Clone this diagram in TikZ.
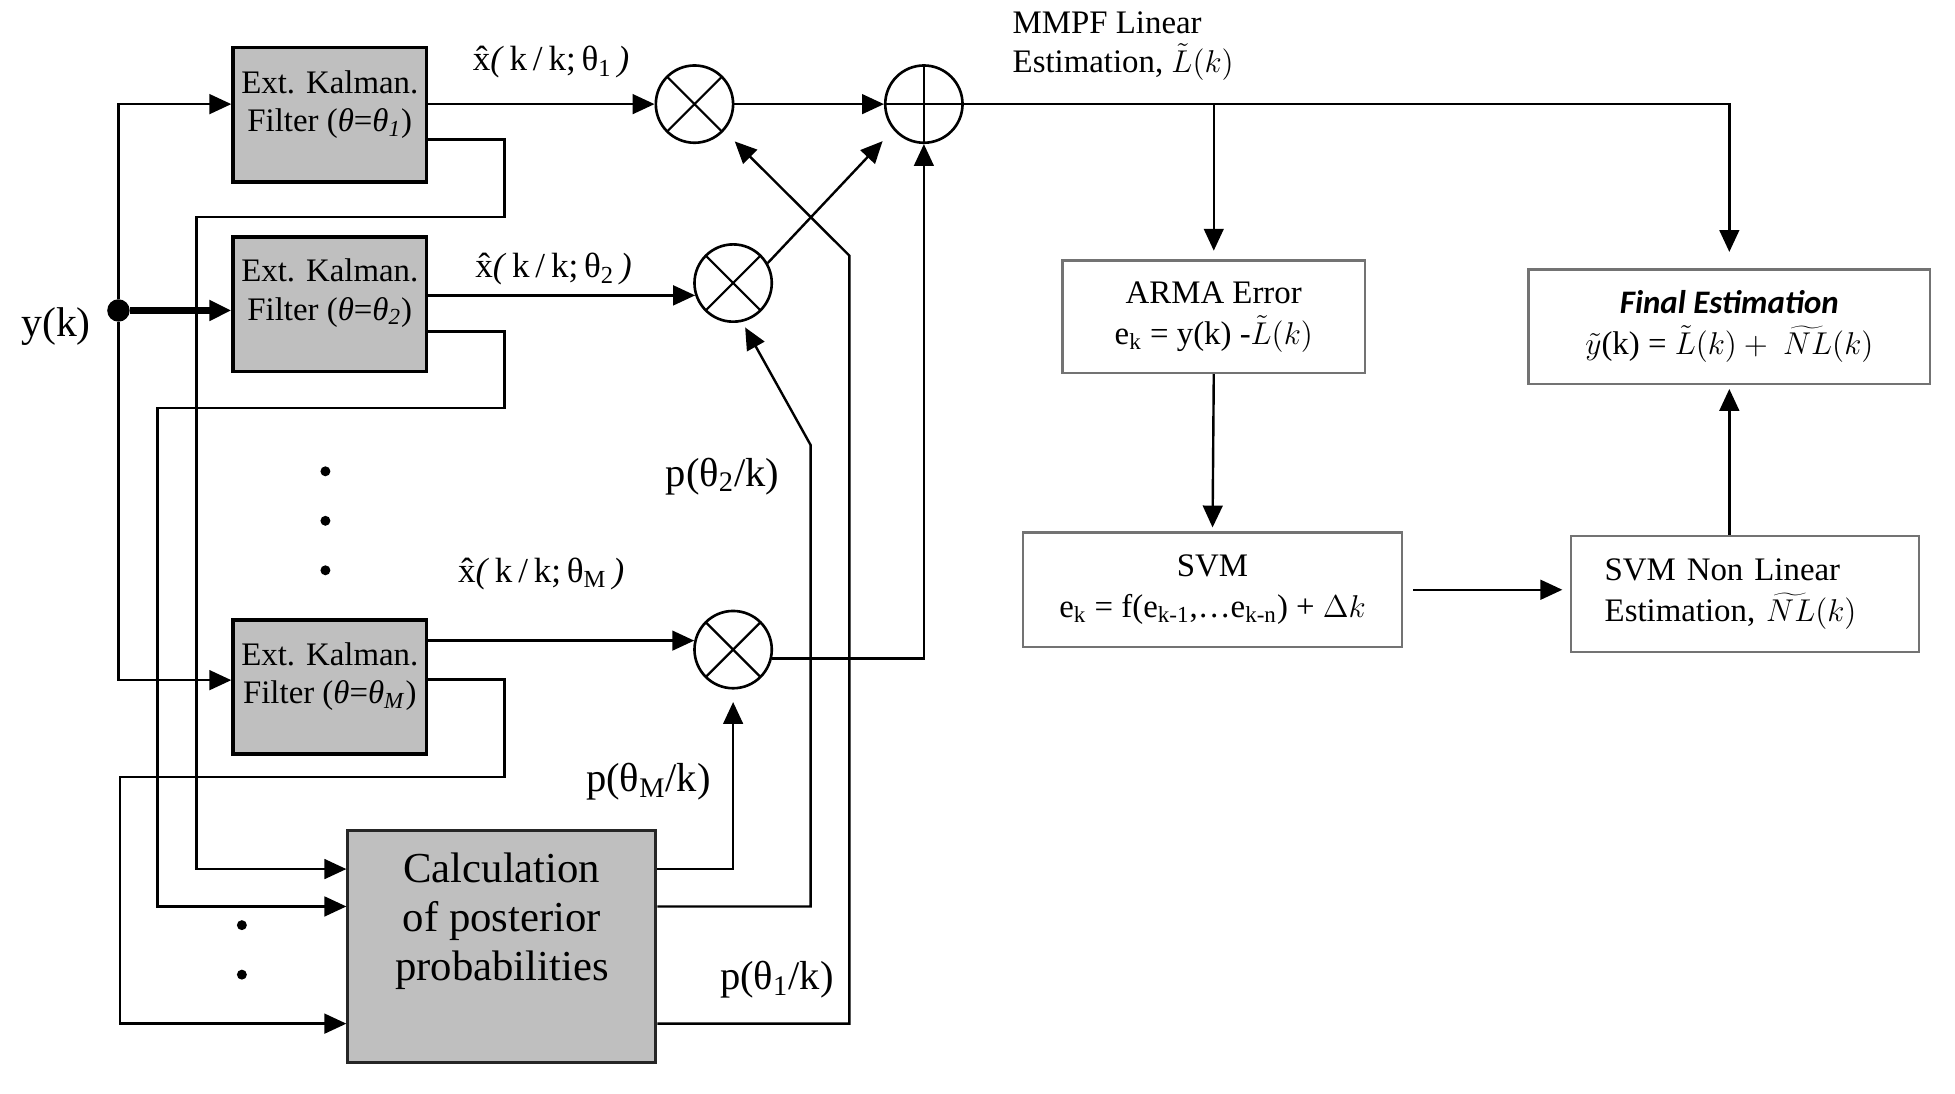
\documentclass[tikz,border=0pt]{standalone}
\usepackage{fontspec}
\setmainfont{Liberation Serif}
\newfontfamily\calibrifont{Carlito}
\usetikzlibrary{positioning, arrows.meta}

\begin{document}
\begin{tikzpicture}[
    x=0.02cm, y=-0.02cm,
    filterbox/.style={rectangle, draw, line width=1.7pt, fill=black!25, minimum width=3.1cm, minimum height=2.16cm},
    postbox/.style={rectangle, draw=black!85, line width=1.4pt, fill=black!25, minimum width=4.94cm, minimum height=3.72cm},
    stagebox/.style={rectangle, draw=black!55, line width=1.1pt, fill=white, align=center, font=\fontsize{15}{18.7}\selectfont},
    mult/.style={circle, draw, line width=1.2pt, minimum size=1.24cm,
        path picture={\draw[line width=1pt] (path picture bounding box.south west) -- (path picture bounding box.north east)
            (path picture bounding box.north west) -- (path picture bounding box.south east);}},
    summ/.style={circle, draw, line width=1.2pt, minimum size=1.24cm,
        path picture={\draw[line width=1pt] (path picture bounding box.north) -- (path picture bounding box.south)
            (path picture bounding box.west) -- (path picture bounding box.east);}},
    ftext/.style={align=center, font=\fontsize{15}{17.6}\selectfont},
    ptext/.style={align=center, font=\fontsize{19.5}{22.5}\selectfont},
    sig/.style={font=\fontsize{16}{18}\selectfont},
    prob/.style={font=\fontsize{18.5}{20}\selectfont},
    dotnode/.style={circle, fill, inner sep=0pt, minimum size=0.16cm},
    arrow/.style={-{Triangle[length=10pt, width=9pt]}, line width=1.1pt},
]
\useasboundingbox (0,0) rectangle (1568,877);

%% NODES
    % filter bank
    \node[filterbox] (ekf1) at (264.5,92) {};
    \node[ftext] (ekf1_txt) at ([yshift=0.16cm]ekf1.center) {Ext. Kalman.\\Filter (\textit{θ}=\textit{θ}\textsubscript{\textit{1}})};
    \node[filterbox] (ekf2) at (264.5,244) {};
    \node[ftext] (ekf2_txt) at ([yshift=0.18cm]ekf2.center) {Ext. Kalman.\\Filter (\textit{θ}=\textit{θ}\textsubscript{\textit{2}})};
    \node[filterbox] (ekfM) at (264.5,551) {};
    \node[ftext] (ekfM_txt) at ([yshift=0.17cm]ekfM.center) {Ext. Kalman.\\Filter (\textit{θ}=\textit{θ}\textsubscript{\textit{M}})};

    \node[postbox] (post) at (402.5,759) {};
    \node[ptext] (post_txt) at ([yshift=0.4cm]post.center) {Calculation\\of posterior\\probabilities};

    % input
    \node[dotnode, minimum size=0.36cm] (ydot) at (95,249) {};
    \node[font=\fontsize{19}{21}\selectfont] (yk) at (45,262) {y(k)};

    \node[dotnode] (dots1) at (261,378) {};
    \node[dotnode, below=0.62cm of dots1] (dots2) {};
    \node[dotnode, below=0.62cm of dots2] (dots3) {};
    \node[dotnode] (dots4) at (194,742) {};
    \node[dotnode, below=0.62cm of dots4] (dots5) {};

    % weighting and sum
    \node[mult] (m1) at (557,83.5) {};
    \node[mult] (m2) at (588,227) {};
    \node[mult] (mM) at (588,521) {};
    \node[summ] (sum) at (741,83.5) {};

    \node[sig] (xhat1) at (442,50) {\^{x}\textit{(}\,k\,/\,k;\,θ\textsubscript{1}\,\textit{)}};
    \node[sig] (xhat2) at (444,216) {\^{x}\textit{(}\,k\,/\,k;\,θ\textsubscript{2}\,\textit{)}};
    \node[sig] (xhatM) at (434,460) {\^{x}\textit{(}\,k\,/\,k;\,θ\textsubscript{M}\,\textit{)}};
    \node[prob] (p2) at (579.5,382) {p(θ\textsubscript{2}/k)};
    \node[prob] (pM) at (520,627) {p(θ\textsubscript{M}/k)};
    \node[prob] (p1) at (623,786) {p(θ\textsubscript{1}/k)};

    \node[align=left, anchor=west, font=\fontsize{15}{18}\selectfont] (mmpf) at (806,37) {MMPF Linear\\Estimation, $\tilde{L}(k)$};

    % error model
    \node[stagebox, minimum width=4.86cm, minimum height=1.8cm] (arma) at (973.5,254) {ARMA Error\\e\textsubscript{k} = y(k) -$\tilde{L}(k)$};
    \node[stagebox, minimum width=6.08cm, minimum height=1.84cm] (svm) at (972.5,473) {SVM\\e\textsubscript{k} = f(e\textsubscript{k-1},…e\textsubscript{k-n}) + $\Delta k$};
    \node[stagebox, align=left, text width=4.5cm, inner xsep=0.54cm, minimum height=1.86cm] (svmnl) at (1399.5,476.5) {SVM Non Linear\\Estimation, $\widetilde{NL}(k)$};
    \node[stagebox, minimum width=6.44cm, minimum height=1.84cm] (final) at (1387,262) {{\calibrifont\bfseries\itshape Final Estimation}\\$\tilde{y}$(k) = $\tilde{L}(k) +\ \widetilde{NL}(k)$};

%% CONNECTORS
    % measurement to filters
    \draw[arrow] (ydot) |- (ekf1.west |- m1.west);
    \draw[arrow, line width=2.8pt] (ydot) -- (ydot -| ekf2.west);
    \draw[arrow] (ydot) |- ([yshift=0.11cm]ekfM.west);

    % state estimates
    \draw[arrow] (ekf1.east |- m1.west) -- (m1.west);
    \draw[arrow] (ekf2.east |- m2.198) -- (m2.198);
    \draw[arrow] (ekfM.east |- mM.167) -- (mM.167);

    % residuals to posterior box
    \draw[arrow] ([yshift=-0.4cm]ekf1.east) -- ++(61,0) -- ++(0,62) -- ++(-247,0) |- ([yshift=1.24cm]post.west);
    \draw[arrow] ([yshift=-0.44cm]ekf2.east) -- ++(61,0) -- ++(0,61) -- ++(-278,0) |- ([yshift=0.64cm]post.west);
    \draw[arrow] ([yshift=0.12cm]ekfM.east) -- ++(61,0) -- ++(0,78) -- ++(-308,0) |- ([yshift=-1.24cm]post.west);

    % probabilities
    \draw[arrow, shorten >=0.2cm] ([yshift=1.24cm]post.east) -| (mM.south);
    \draw[arrow, shorten >=0.1cm] ([yshift=0.64cm]post.east) -| ++(123,-370) -- (m2.-77);
    \draw[arrow, shorten >=0.24cm] ([yshift=-1.24cm]post.east) -| ++(154,-616) -- (m1.-42);

    % sum
    \draw[arrow] (m1.east) -- (sum.west);
    \draw[arrow, shorten >=0.25cm] (m2.30) -- (sum.220);
    \draw[arrow] (mM.-13) -| (sum.south);

    % linear estimate onwards
    \draw[arrow, shorten >=0.26cm] (sum.east) -| (final.north);
    \draw[arrow, shorten >=0.14cm] (sum.east -| arma.north) -- (arma.north);
    \draw[arrow, shorten >=0.06cm] (arma.south) -- (svm.north);
    \draw[arrow, shorten <=0.16cm, shorten >=0.12cm] (svm.east) -- (svm.east -| svmnl.west);
    \draw[arrow, shorten >=0.06cm] (svmnl.north -| final.south) -- (final.south);

\end{tikzpicture}
\end{document}
